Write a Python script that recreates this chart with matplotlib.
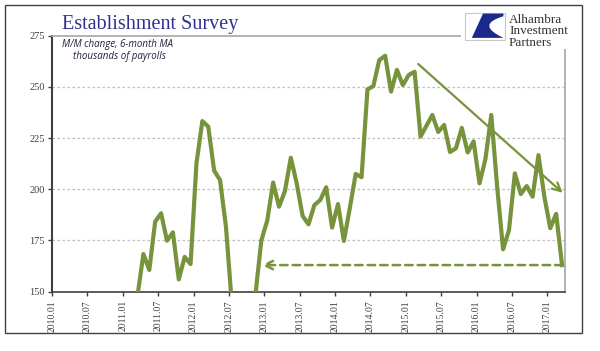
import matplotlib
matplotlib.use("Agg")
import matplotlib.pyplot as plt
from matplotlib.patches import Rectangle, PathPatch
from matplotlib.path import Path

# ---------------- data ----------------
months = [f"{y}.{m:02d}" for y in range(2010, 2018) for m in range(1, 13)][:87]  # 2010.01 .. 2017.03
payrolls_ma = [
    # 2010.01 - 2010.12 (below axis minimum, not visible)
    40, 60, 90, 120, 140, 135, 120, 110, 100, 95, 100, 110,
    # 2011
    125, 138, 148, 168.4, 160.6, 184.2, 188.3, 174.9, 179.0, 156.0, 167.0, 163.5,
    # 2012
    212.7, 233.3, 230.6, 209.1, 204.5, 181.7, 144, 130, 128, 138, 148.5, 175.0,
    # 2013
    184.7, 203.3, 191.5, 199.1, 215.4, 202.9, 187.0, 182.9, 192.3, 194.8, 201.0, 181.3,
    # 2014
    192.8, 174.8, 190.7, 207.5, 205.9, 248.8, 250.4, 263.1, 265.2, 247.7, 258.3, 250.9,
    # 2015
    255.8, 257.4, 225.7, 231.0, 236.3, 228.0, 231.4, 218.2, 220.0, 230.0, 218.0, 223.4,
    # 2016
    202.9, 214.7, 236.3, 201.0, 170.7, 180.1, 207.8, 197.7, 201.6, 196.4, 216.7, 196.4,
    # 2017
    181.0, 188.0, 163.0,
]
tick_labels = [f"{y}.{m:02d}" for y in range(2010, 2018) for m in (1, 7)][:15]
y_ticks = [150, 175, 200, 225, 250, 275]

# annotation anchors (month position, value)
trend_start = (62.1, 261.2)
trend_end = (86.6, 198.3)
dash_start_x = 86.6
dash_end_x = 35.6
dash_level = payrolls_ma[-1]

title = "Establishment Survey"
subtitle1 = "M/M change, 6-month MA"
subtitle2 = "thousands of payrolls"

# ---------------- figure ----------------
GREEN = "#77933C"
W, H = 600, 351
fig = plt.figure(figsize=(W / 100, H / 100), dpi=100)
fig.patch.set_facecolor("white")

def fx(px):
    return px / W

def fy(py):
    return (H - py) / H

ax = fig.add_axes([fx(52), fy(291.7), fx(565) - fx(52), fy(35.7) - fy(291.7)])

x = [i + 0.5 for i in range(len(payrolls_ma))]
ax.plot(x, payrolls_ma, color=GREEN, lw=3.0, solid_joinstyle="round", zorder=3)

ax.set_xlim(0, 87)
ax.set_ylim(150, 275)
ax.set_yticks(y_ticks)
ax.set_yticklabels([str(v) for v in y_ticks])
tick_pos = [months.index(t) for t in tick_labels]
ax.set_xticks(tick_pos)
ax.set_xticklabels(tick_labels, rotation=90)

for lab in ax.get_xticklabels() + ax.get_yticklabels():
    lab.set_fontfamily("Liberation Serif")
    lab.set_color("#404040")
for lab in ax.get_yticklabels():
    lab.set_fontsize(7.5)
for lab in ax.get_xticklabels():
    lab.set_fontsize(7)

ax.tick_params(axis="both", direction="out", length=3, width=1, color="#404040", pad=2)
ax.tick_params(axis="x", pad=3)

for v in y_ticks[1:-1]:
    ax.axhline(v, color="#BFBFBF", lw=0.9, ls=(0, (2, 2)), zorder=1)

ax.spines["left"].set_color("#404040")
ax.spines["left"].set_linewidth(1.5)
ax.spines["bottom"].set_color("#404040")
ax.spines["bottom"].set_linewidth(1.2)
for s in ("top", "right"):
    ax.spines[s].set_color("#A6A6A6")
    ax.spines[s].set_linewidth(1.2)

# trend arrow
ax.annotate("", xy=trend_end, xytext=trend_start,
            arrowprops=dict(arrowstyle="->,head_length=0.6,head_width=0.3",
                            color=GREEN, lw=1.6, shrinkA=0, shrinkB=0), zorder=4)
# dashed arrow
ax.annotate("", xy=(dash_end_x, dash_level), xytext=(dash_start_x, dash_level),
            arrowprops=dict(arrowstyle="->,head_length=0.6,head_width=0.3",
                            color=GREEN, lw=1.8, ls=(0, (3, 2)), shrinkA=0, shrinkB=0),
            zorder=4)

# titles
fig.text(fx(62), fy(29), title, fontsize=14.5, family="Liberation Serif",
         color="#2E3192", ha="left", va="baseline")
fig.text(fx(62), fy(44), subtitle1, fontsize=7, family="Open Sans", style="italic",
         color="#1F1F3F", ha="left", va="center")
fig.text(fx(73), fy(56), subtitle2, fontsize=7, family="Open Sans", style="italic",
         color="#1F1F3F", ha="left", va="center")

# logo block (white backing covers frame)
fig.patches.append(Rectangle((fx(461), fy(49)), fx(580) - fx(461), fy(6) - fy(49),
                             transform=fig.transFigure, facecolor="white",
                             edgecolor="none", zorder=5))
bx0, bx1, by0, by1 = fx(465), fx(505), fy(39.5), fy(12.5)
fig.patches.append(Rectangle((bx0, by0), bx1 - bx0, by1 - by0, transform=fig.transFigure,
                             facecolor="white", edgecolor="#C8C8C8", lw=0.8, zorder=6))

def lp(u, v):
    return (bx0 + u * (bx1 - bx0), by0 + v * (by1 - by0))

verts = [lp(0.45, 0.96), lp(0.96, 0.96), lp(0.96, 0.86), lp(0.25, 0.55), lp(0.96, 0.06),
         lp(0.17, 0.06), lp(0.45, 0.96)]
codes = [Path.MOVETO, Path.LINETO, Path.LINETO, Path.CURVE3, Path.CURVE3,
         Path.LINETO, Path.CLOSEPOLY]
fig.patches.append(PathPatch(Path(verts, codes), transform=fig.transFigure,
                             facecolor="#1B2A8A", edgecolor="none", zorder=7))
for txt, yy in (("Alhambra", 20), ("Investment", 31.5), ("Partners", 43)):
    fig.text(fx(509), fy(yy), txt, fontsize=9.5, family="Liberation Serif",
             color="#333333", ha="left", va="center", zorder=8)

# outer border
fig.patches.append(Rectangle((fx(5), fy(332.5)), fx(582) - fx(5), fy(5) - fy(332.5),
                             transform=fig.transFigure, facecolor="none",
                             edgecolor="#404040", lw=1.0, zorder=9))

fig.savefig("out.png", dpi=100)
